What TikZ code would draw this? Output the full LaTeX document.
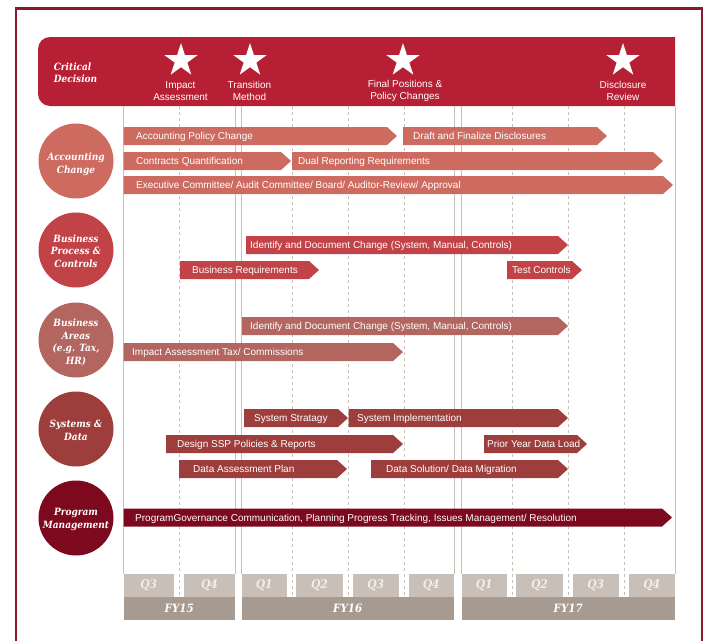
\documentclass[tikz,border=0pt]{standalone}
\usepackage{fontspec}
\newfontfamily\labelsans{Liberation Sans}
\newfontfamily\headserif{DejaVu Serif Condensed}
\usetikzlibrary{shapes.geometric}

\definecolor{framered}{RGB}{139,26,44}
\definecolor{bannerred}{RGB}{183,31,52}
\definecolor{accC}{RGB}{206,107,97}
\definecolor{bpcC}{RGB}{193,67,72}
\definecolor{baC}{RGB}{178,102,95}
\definecolor{sdC}{RGB}{157,62,60}
\definecolor{pmC}{RGB}{124,9,30}
\definecolor{gridC}{RGB}{201,193,183}
\definecolor{qC}{RGB}{200,191,184}
\definecolor{fyC}{RGB}{167,154,145}
\definecolor{qtext}{RGB}{242,238,233}

\tikzset{
  bartext/.style={anchor=base west, inner sep=0pt, text=white,
    font=\labelsans\fontsize{10}{12}\selectfont},
  milestone/.style={star, star points=5, star point ratio=2.618,
    minimum size=35pt, inner sep=0pt, fill=white},
  milelabel/.style={align=center, text=white, inner sep=0pt,
    font=\labelsans\fontsize{10}{12}\selectfont},
  circdisc/.style={circle, minimum size=75pt, inner sep=0pt},
  circtext/.style={align=center, inner sep=0pt, text=white,
    font=\headserif\fontsize{10}{12.5}\selectfont\bfseries\itshape},
  headlabel/.style={align=left, text=white, inner sep=0pt,
    font=\headserif\fontsize{10}{12}\selectfont\bfseries\itshape},
  solidgrid/.style={draw=gridC, line width=1pt},
  dashgrid/.style={draw=gridC, line width=0.9pt, dash pattern=on 3pt off 3pt},
  qlabel/.style={text=qtext, inner sep=0pt,
    font=\headserif\fontsize{12}{12}\selectfont\bfseries\itshape},
  fylabel/.style={text=white, inner sep=0pt,
    font=\headserif\fontsize{11.5}{12}\selectfont\bfseries\itshape},
}

% chevron bar: name, colour, start x, tip x, centre y, text x, text
\newcommand{\chevbar}[7]{%
  \fill[#2] ({#3},{#5-9}) -- ({#4-10},{#5-9}) -- ({#4},{#5})
    -- ({#4-10},{#5+9}) -- ({#3},{#5+9}) -- cycle;
  \node[bartext] (#1) at ({#6},{#5+3.6}) {#7};
}
% quarter / fiscal-year box: name, fill, x1, x2, y1, y2, label style, label
\newcommand{\periodbox}[8]{%
  \fill[#2] ({#3},{#5}) rectangle ({#4},{#6});
  \node[#7] (#1) at ({(#3+#4)/2},{(#5+#6)/2}) {#8};
}

\begin{document}
\begin{tikzpicture}[x=1pt, y=-1pt]
\useasboundingbox (0,0) rectangle (704,640);

% outer frame
\draw[framered, line width=2.5pt] (16,645) -- (16,8.7) -- (702,8.7) -- (702,645);

% critical decision banner, rounded on the left only
\begin{scope}
  \clip (0,0) rectangle (675,120);
  \fill[bannerred, rounded corners=12pt] (38,37) rectangle (700,106);
\end{scope}
\node[headlabel] (crit) at (75.5,72.5) {Critical\\Decision};

% milestones
\node[milestone] (s1) at (181,60.5) {};
\node[milestone] (s2) at (250,60.5) {};
\node[milestone] (s3) at (403,60.5) {};
\node[milestone] (s4) at (623,60.5) {};
\node[milelabel] (m1) at (180.5,91) {Impact\\Assessment};
\node[milelabel] (m2) at (249.5,91) {Transition\\Method};
\node[milelabel] (m3) at (405,91) {Final Positions \&\\Policy Changes};
\node[milelabel] (m4) at (623,91) {Disclosure\\Review};

% timeline grid
\foreach \gx in {123.5,235,241.5,454,461.5,675}
  \draw[solidgrid] (\gx,106) -- (\gx,574);
\foreach \gx in {179.5,292,348,404,512,568,624}
  \draw[dashgrid] (\gx,106) -- (\gx,597);

% accounting change
\chevbar{apc}{accC}{123.5}{397}{136}{136}{Accounting Policy Change}
\chevbar{dfd}{accC}{403}{607}{136}{413}{Draft and Finalize Disclosures}
\chevbar{cq}{accC}{123.5}{291}{161}{136}{Contracts Quantification}
\chevbar{drr}{accC}{292}{663}{161}{298}{Dual Reporting Requirements}
\chevbar{exe}{accC}{123.5}{673}{185}{136}{Executive Committee/ Audit Committee/ Board/ Auditor-Review/ Approval}

% business process & controls
\chevbar{idc1}{bpcC}{246}{568}{245}{250}{Identify and Document Change (System, Manual, Controls)}
\chevbar{breq}{bpcC}{180}{319}{270}{192}{Business Requirements}
\chevbar{tc}{bpcC}{507}{582}{270}{512}{Test Controls}

% business areas
\chevbar{idc2}{baC}{242}{568}{326}{250}{Identify and Document Change (System, Manual, Controls)}
\chevbar{iat}{baC}{123.5}{403}{352}{132}{Impact Assessment Tax/ Commissions}

% systems & data
\chevbar{ss}{sdC}{244}{348}{418}{254}{System Stratagy}
\chevbar{si}{sdC}{348.5}{568}{418}{357}{System Implementation}
\chevbar{dssp}{sdC}{166}{403}{444}{177}{Design SSP Policies \& Reports}
\chevbar{pydl}{sdC}{484}{587}{444}{487}{Prior Year Data Load}
\chevbar{dap}{sdC}{179}{347}{469}{193}{Data Assessment Plan}
\chevbar{dsdm}{sdC}{371}{568}{469}{386}{Data Solution/ Data Migration}

% program management
\chevbar{pg}{pmC}{123.5}{672}{517.5}{135}{ProgramGovernance Communication, Planning Progress Tracking, Issues Management/ Resolution}

% workstream circles and their titles
\node[circdisc, fill=accC] (cacc) at (76,161) {};
\node[circdisc, fill=bpcC] (cbpc) at (76,250) {};
\node[circdisc, fill=baC]  (cba)  at (76,340) {};
\node[circdisc, fill=sdC]  (csd)  at (76,429) {};
\node[circdisc, fill=pmC]  (cpm)  at (76,518) {};
\node[circtext] (tacc) at (76,164.5) {Accounting\\Change};
\node[circtext] (tbpc) at (76,251) {Business\\Process \&\\Controls};
\node[circtext] (tba)  at (76,342.5) {Business\\Areas\\(e.g. Tax,\\HR)};
\node[circtext] (tsd)  at (76,430.5) {Systems \&\\Data};
\node[circtext] (tpm)  at (76,519.5) {Program\\Management};

% quarters
\periodbox{q1}{qC}{123.5}{174}{574}{596.5}{qlabel}{Q3}
\periodbox{q2}{qC}{184}{235}{574}{596.5}{qlabel}{Q4}
\periodbox{q3}{qC}{241.5}{287}{574}{596.5}{qlabel}{Q1}
\periodbox{q4}{qC}{296}{343}{574}{596.5}{qlabel}{Q2}
\periodbox{q5}{qC}{352.5}{399}{574}{596.5}{qlabel}{Q3}
\periodbox{q6}{qC}{408.5}{454}{574}{596.5}{qlabel}{Q4}
\periodbox{q7}{qC}{461.5}{507}{574}{596.5}{qlabel}{Q1}
\periodbox{q8}{qC}{516}{563}{574}{596.5}{qlabel}{Q2}
\periodbox{q9}{qC}{572.5}{619}{574}{596.5}{qlabel}{Q3}
\periodbox{q10}{qC}{628.5}{675}{574}{596.5}{qlabel}{Q4}

% fiscal years
\periodbox{fy15}{fyC}{123.5}{235}{596.5}{619.5}{fylabel}{FY15}
\periodbox{fy16}{fyC}{241.5}{454}{596.5}{619.5}{fylabel}{FY16}
\periodbox{fy17}{fyC}{461.5}{675}{596.5}{619.5}{fylabel}{FY17}
\end{tikzpicture}
\end{document}
